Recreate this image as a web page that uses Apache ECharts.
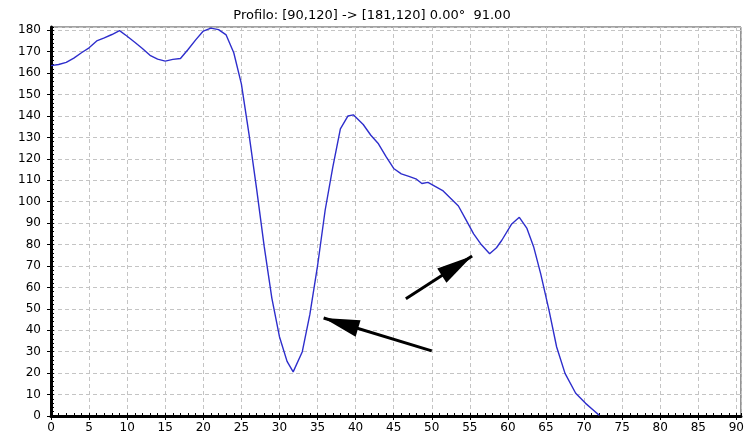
<!DOCTYPE html>
<html>
<head>
<meta charset="utf-8">
<title>Profilo</title>
<script src="https://cdn.jsdelivr.net/npm/echarts@6/dist/echarts.min.js"></script>
<style>
  html, body { margin: 0; padding: 0; background: #fff; }
  #chart { width: 747px; height: 441px; }
</style>
</head>
<body>
<div id="chart"></div>
<script>
'use strict';

// profilo (distanza, valore)
var profX = [0, 1, 2, 3, 4, 5, 6, 7, 8, 9, 10, 11, 12, 13, 14, 15, 16, 17, 18, 19,
  20, 21, 22, 23, 24, 25, 26, 27, 28, 29, 30, 31, 31.8, 33, 34, 35, 36, 37, 38, 39,
  39.7, 41, 42, 43, 44, 45, 46, 47, 48, 48.7, 49.5, 50.5, 51.5, 52.5, 53.5, 54.5,
  55.5, 56.5, 57.6, 58.5, 59.2, 60.5, 61.5, 62.5, 63.4, 64.3, 65.4, 66.4, 67.5,
  68.9, 70.2, 71.2, 72];
var profY = [163.5, 164, 165, 167, 169.5, 171.8, 175, 176.4, 178, 179.8, 177.2, 174.4,
  171.5, 168.3, 166.5, 165.6, 166.4, 166.8, 171, 175.5, 179.6, 181, 180.3, 177.8,
  169.5, 155, 131.5, 106, 79, 55, 37, 25.5, 20.6, 30, 47.5, 70, 96, 116, 134, 140,
  140.5, 136, 131, 127, 121, 115.5, 113, 111.8, 110.5, 108.5, 109, 107, 105, 101.5,
  98, 91.5, 85, 80, 75.7, 78.5, 82, 89.6, 92.7, 87.5, 78.7, 66.4, 49.3, 32.2, 19.9,
  10.6, 5.9, 2.8, 0.3];

// frecce: [coda, punta] in coordinate dati
var arrow1 = [[50, 30.4], [35.8, 45.7]];
var arrow2 = [[46.6, 54.7], [55.3, 74.6]];

var titolo = 'Profilo: [90,120] -> [181,120] 0.00°  91.00';

var font = 'DejaVu Sans, Verdana, sans-serif';

var myChart = echarts.init(document.getElementById('chart'));

var dati = [];
for (var i = 0; i < profX.length; i++) {
  dati.push([profX[i], profY[i]]);
}

var gridLine = { show: true, lineStyle: { color: '#c4c4c4', type: [4, 3], width: 1 } };

var option = {
  animation: false,
  backgroundColor: '#fff',
  title: {
    text: titolo,
    left: 367,
    textAlign: 'center',
    top: 4,
    textStyle: { fontFamily: font, fontSize: 13, fontWeight: 'normal', color: '#000' }
  },
  grid: {
    left: 51, right: 5, top: 27, bottom: 25,
    show: true, borderColor: '#444', borderWidth: 1, backgroundColor: 'transparent'
  },
  xAxis: [
    {
      type: 'value', min: 0, max: 90.6, interval: 5,
      axisLine: { show: true, onZero: false, lineStyle: { color: '#000', width: 3 } },
      axisTick: { show: true, length: 4, lineStyle: { color: '#000' } },
      axisLabel: { showMaxLabel: false, color: '#000', fontFamily: font, fontSize: 12, margin: 6 },
      splitLine: gridLine
    },
    {
      type: 'value', min: 0, max: 90.6, interval: 1, position: 'bottom',
      axisLine: { show: false },
      axisTick: { show: true, inside: true, length: 3, lineStyle: { color: '#000' } },
      axisLabel: { show: false },
      splitLine: { show: false }
    }
  ],
  yAxis: [
    {
      type: 'value', min: 0, max: 181.5, interval: 10,
      axisLine: { show: true, onZero: false, lineStyle: { color: '#000', width: 3 } },
      axisTick: { show: true, length: 4, lineStyle: { color: '#000' } },
      axisLabel: { showMaxLabel: false, color: '#000', fontFamily: font, fontSize: 12, margin: 10 },
      splitLine: gridLine
    },
    {
      type: 'value', min: 0, max: 181.5, interval: 2, position: 'left',
      axisLine: { show: false },
      axisTick: { show: true, inside: true, length: 3, lineStyle: { color: '#000' } },
      axisLabel: { show: false },
      splitLine: { show: false }
    }
  ],
  series: [
    {
      type: 'line',
      data: dati,
      showSymbol: false,
      smooth: false,
      lineStyle: { color: '#2e2ecc', width: 1.4 },
      markLine: {
        silent: true,
        symbol: ['none', 'triangle'],
        symbolSize: [17, 36],
        symbolOffset: [[0, 0], [0, 18]],
        label: { show: false },
        lineStyle: { color: '#000', width: 3, type: 'solid' },
        data: [
          [{ coord: arrow1[0] }, { coord: arrow1[1] }],
          [{ coord: arrow2[0] }, { coord: arrow2[1] }]
        ]
      }
    }
  ]
};

myChart.setOption(option);
</script>
</body>
</html>
